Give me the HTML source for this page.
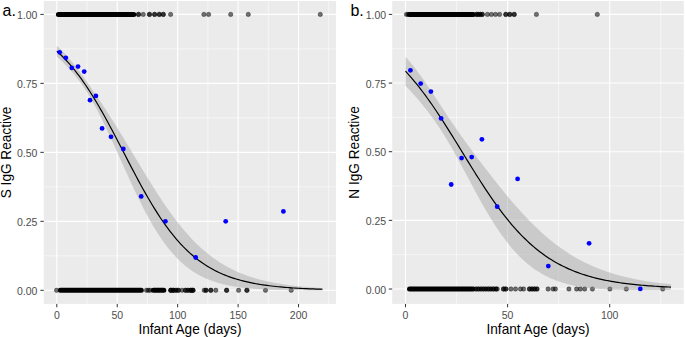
<!DOCTYPE html>
<html><head><meta charset="utf-8"><style>
html,body{margin:0;padding:0;background:#fff;width:685px;height:337px;overflow:hidden}
svg{display:block;font-family:"Liberation Sans",sans-serif}
</style></head><body>
<svg width="685" height="337" viewBox="0 0 685 337">
<rect width="685" height="337" fill="#fff"/>
<rect x="43.8" y="1" width="292.2" height="302.9" fill="#EBEBEB"/>
<path d="M43.8 255.81H336M43.8 186.84H336M43.8 117.86H336M43.8 48.89H336M87.02 1V303.9M147.45 1V303.9M207.89 1V303.9M268.32 1V303.9M328.76 1V303.9" stroke="#fff" stroke-width="0.55" fill="none"/>
<path d="M43.8 290.3H336M43.8 221.33H336M43.8 152.35H336M43.8 83.38H336M43.8 14.4H336M56.8 1V303.9M117.23 1V303.9M177.67 1V303.9M238.11 1V303.9M298.54 1V303.9" stroke="#fff" stroke-width="1.1" fill="none"/>
<path d="M58.4 14.4H133.8" stroke="#000" stroke-width="5.0" stroke-linecap="round"/>
<circle cx="138.5" cy="14.4" r="2.2" fill="#000" fill-opacity="0.55" stroke="#000" stroke-opacity="0.55" stroke-width="0.6"/>
<circle cx="138.5" cy="14.4" r="2.2" fill="#000" fill-opacity="0.55" stroke="#000" stroke-opacity="0.55" stroke-width="0.6"/>
<circle cx="143.2" cy="14.4" r="2.2" fill="#000" fill-opacity="0.55" stroke="#000" stroke-opacity="0.55" stroke-width="0.6"/>
<circle cx="149.5" cy="14.4" r="2.2" fill="#000" fill-opacity="0.55" stroke="#000" stroke-opacity="0.55" stroke-width="0.6"/>
<circle cx="149.5" cy="14.4" r="2.2" fill="#000" fill-opacity="0.55" stroke="#000" stroke-opacity="0.55" stroke-width="0.6"/>
<circle cx="154.6" cy="14.4" r="2.2" fill="#000" fill-opacity="0.55" stroke="#000" stroke-opacity="0.55" stroke-width="0.6"/>
<circle cx="154.6" cy="14.4" r="2.2" fill="#000" fill-opacity="0.55" stroke="#000" stroke-opacity="0.55" stroke-width="0.6"/>
<circle cx="159.3" cy="14.4" r="2.2" fill="#000" fill-opacity="0.55" stroke="#000" stroke-opacity="0.55" stroke-width="0.6"/>
<circle cx="159.3" cy="14.4" r="2.2" fill="#000" fill-opacity="0.55" stroke="#000" stroke-opacity="0.55" stroke-width="0.6"/>
<circle cx="163.3" cy="14.4" r="2.2" fill="#000" fill-opacity="0.55" stroke="#000" stroke-opacity="0.55" stroke-width="0.6"/>
<circle cx="163.3" cy="14.4" r="2.2" fill="#000" fill-opacity="0.55" stroke="#000" stroke-opacity="0.55" stroke-width="0.6"/>
<circle cx="170.6" cy="14.4" r="2.2" fill="#000" fill-opacity="0.55" stroke="#000" stroke-opacity="0.55" stroke-width="0.6"/>
<circle cx="203.9" cy="14.4" r="2.2" fill="#000" fill-opacity="0.55" stroke="#000" stroke-opacity="0.55" stroke-width="0.6"/>
<circle cx="208.6" cy="14.4" r="2.2" fill="#000" fill-opacity="0.55" stroke="#000" stroke-opacity="0.55" stroke-width="0.6"/>
<circle cx="230.7" cy="14.4" r="2.2" fill="#000" fill-opacity="0.55" stroke="#000" stroke-opacity="0.55" stroke-width="0.6"/>
<circle cx="248.3" cy="14.4" r="2.2" fill="#000" fill-opacity="0.55" stroke="#000" stroke-opacity="0.55" stroke-width="0.6"/>
<circle cx="320.3" cy="14.4" r="2.2" fill="#000" fill-opacity="0.55" stroke="#000" stroke-opacity="0.55" stroke-width="0.6"/>
<circle cx="56.6" cy="290.3" r="2.2" fill="#000" fill-opacity="0.55" stroke="#000" stroke-opacity="0.55" stroke-width="0.6"/>
<path d="M60.4 290.3H141.3" stroke="#000" stroke-width="5.0" stroke-linecap="round"/>
<circle cx="146.5" cy="290.3" r="2.2" fill="#000" fill-opacity="0.55" stroke="#000" stroke-opacity="0.55" stroke-width="0.6"/>
<circle cx="148.4" cy="290.3" r="2.2" fill="#000" fill-opacity="0.55" stroke="#000" stroke-opacity="0.55" stroke-width="0.6"/>
<circle cx="150.2" cy="290.3" r="2.2" fill="#000" fill-opacity="0.55" stroke="#000" stroke-opacity="0.55" stroke-width="0.6"/>
<path d="M153.4 290.3H163.8" stroke="#000" stroke-width="5.0" stroke-linecap="round"/>
<circle cx="170.8" cy="290.3" r="2.2" fill="#000" fill-opacity="0.55" stroke="#000" stroke-opacity="0.55" stroke-width="0.6"/>
<circle cx="170.8" cy="290.3" r="2.2" fill="#000" fill-opacity="0.55" stroke="#000" stroke-opacity="0.55" stroke-width="0.6"/>
<circle cx="170.8" cy="290.3" r="2.2" fill="#000" fill-opacity="0.55" stroke="#000" stroke-opacity="0.55" stroke-width="0.6"/>
<circle cx="173.3" cy="290.3" r="2.2" fill="#000" fill-opacity="0.55" stroke="#000" stroke-opacity="0.55" stroke-width="0.6"/>
<circle cx="173.3" cy="290.3" r="2.2" fill="#000" fill-opacity="0.55" stroke="#000" stroke-opacity="0.55" stroke-width="0.6"/>
<circle cx="173.3" cy="290.3" r="2.2" fill="#000" fill-opacity="0.55" stroke="#000" stroke-opacity="0.55" stroke-width="0.6"/>
<circle cx="176" cy="290.3" r="2.2" fill="#000" fill-opacity="0.55" stroke="#000" stroke-opacity="0.55" stroke-width="0.6"/>
<circle cx="176" cy="290.3" r="2.2" fill="#000" fill-opacity="0.55" stroke="#000" stroke-opacity="0.55" stroke-width="0.6"/>
<circle cx="178.3" cy="290.3" r="2.2" fill="#000" fill-opacity="0.55" stroke="#000" stroke-opacity="0.55" stroke-width="0.6"/>
<circle cx="178.3" cy="290.3" r="2.2" fill="#000" fill-opacity="0.55" stroke="#000" stroke-opacity="0.55" stroke-width="0.6"/>
<circle cx="182" cy="290.3" r="2.2" fill="#000" fill-opacity="0.55" stroke="#000" stroke-opacity="0.55" stroke-width="0.6"/>
<circle cx="185.5" cy="290.3" r="2.2" fill="#000" fill-opacity="0.55" stroke="#000" stroke-opacity="0.55" stroke-width="0.6"/>
<circle cx="185.5" cy="290.3" r="2.2" fill="#000" fill-opacity="0.55" stroke="#000" stroke-opacity="0.55" stroke-width="0.6"/>
<circle cx="188" cy="290.3" r="2.2" fill="#000" fill-opacity="0.55" stroke="#000" stroke-opacity="0.55" stroke-width="0.6"/>
<circle cx="188" cy="290.3" r="2.2" fill="#000" fill-opacity="0.55" stroke="#000" stroke-opacity="0.55" stroke-width="0.6"/>
<circle cx="190.8" cy="290.3" r="2.2" fill="#000" fill-opacity="0.55" stroke="#000" stroke-opacity="0.55" stroke-width="0.6"/>
<circle cx="190.8" cy="290.3" r="2.2" fill="#000" fill-opacity="0.55" stroke="#000" stroke-opacity="0.55" stroke-width="0.6"/>
<circle cx="190.8" cy="290.3" r="2.2" fill="#000" fill-opacity="0.55" stroke="#000" stroke-opacity="0.55" stroke-width="0.6"/>
<circle cx="192.9" cy="290.3" r="2.2" fill="#000" fill-opacity="0.55" stroke="#000" stroke-opacity="0.55" stroke-width="0.6"/>
<circle cx="192.9" cy="290.3" r="2.2" fill="#000" fill-opacity="0.55" stroke="#000" stroke-opacity="0.55" stroke-width="0.6"/>
<circle cx="192.9" cy="290.3" r="2.2" fill="#000" fill-opacity="0.55" stroke="#000" stroke-opacity="0.55" stroke-width="0.6"/>
<circle cx="204.2" cy="290.3" r="2.2" fill="#000" fill-opacity="0.55" stroke="#000" stroke-opacity="0.55" stroke-width="0.6"/>
<circle cx="206" cy="290.3" r="2.2" fill="#000" fill-opacity="0.55" stroke="#000" stroke-opacity="0.55" stroke-width="0.6"/>
<circle cx="206" cy="290.3" r="2.2" fill="#000" fill-opacity="0.55" stroke="#000" stroke-opacity="0.55" stroke-width="0.6"/>
<circle cx="210.8" cy="290.3" r="2.2" fill="#000" fill-opacity="0.55" stroke="#000" stroke-opacity="0.55" stroke-width="0.6"/>
<circle cx="210.8" cy="290.3" r="2.2" fill="#000" fill-opacity="0.55" stroke="#000" stroke-opacity="0.55" stroke-width="0.6"/>
<circle cx="215.8" cy="290.3" r="2.2" fill="#000" fill-opacity="0.55" stroke="#000" stroke-opacity="0.55" stroke-width="0.6"/>
<circle cx="226.6" cy="290.3" r="2.2" fill="#000" fill-opacity="0.55" stroke="#000" stroke-opacity="0.55" stroke-width="0.6"/>
<circle cx="226.6" cy="290.3" r="2.2" fill="#000" fill-opacity="0.55" stroke="#000" stroke-opacity="0.55" stroke-width="0.6"/>
<circle cx="238.6" cy="290.3" r="2.2" fill="#000" fill-opacity="0.55" stroke="#000" stroke-opacity="0.55" stroke-width="0.6"/>
<circle cx="246.9" cy="290.3" r="2.2" fill="#000" fill-opacity="0.55" stroke="#000" stroke-opacity="0.55" stroke-width="0.6"/>
<circle cx="246.9" cy="290.3" r="2.2" fill="#000" fill-opacity="0.55" stroke="#000" stroke-opacity="0.55" stroke-width="0.6"/>
<circle cx="265.5" cy="290.3" r="2.2" fill="#000" fill-opacity="0.55" stroke="#000" stroke-opacity="0.55" stroke-width="0.6"/>
<circle cx="291.2" cy="290.3" r="2.2" fill="#000" fill-opacity="0.55" stroke="#000" stroke-opacity="0.55" stroke-width="0.6"/>
<path d="M56.8 45.76 L59.01 47.82 L61.23 49.98 L63.44 52.25 L65.66 54.61 L67.87 57.09 L70.08 59.66 L72.3 62.32 L74.51 65.08 L76.73 67.92 L78.94 70.84 L81.15 73.83 L83.37 76.87 L85.58 79.97 L87.8 83.1 L90.01 86.27 L92.22 89.48 L94.44 92.71 L96.65 95.97 L98.86 99.27 L101.08 102.59 L103.29 105.95 L105.51 109.34 L107.72 112.77 L109.93 116.23 L112.15 119.72 L114.36 123.24 L116.58 126.79 L118.79 130.38 L121 133.98 L123.22 137.61 L125.43 141.26 L127.65 144.92 L129.86 148.6 L132.07 152.28 L134.29 155.97 L136.5 159.66 L138.72 163.34 L140.93 167.01 L143.14 170.67 L145.36 174.31 L147.57 177.92 L149.79 181.51 L152 185.06 L154.21 188.57 L156.43 192.04 L158.64 195.46 L160.85 198.83 L163.07 202.14 L165.28 205.4 L167.5 208.59 L169.71 211.72 L171.92 214.78 L174.14 217.77 L176.35 220.69 L178.57 223.53 L180.78 226.29 L182.99 228.98 L185.21 231.59 L187.42 234.12 L189.64 236.57 L191.85 238.95 L194.06 241.24 L196.28 243.45 L198.49 245.59 L200.71 247.64 L202.92 249.63 L205.13 251.53 L207.35 253.36 L209.56 255.12 L211.78 256.81 L213.99 258.43 L216.2 259.98 L218.42 261.47 L220.63 262.89 L222.85 264.25 L225.06 265.55 L227.27 266.79 L229.49 267.98 L231.7 269.11 L233.91 270.19 L236.13 271.21 L238.34 272.19 L240.56 273.13 L242.77 274.02 L244.98 274.86 L247.2 275.67 L249.41 276.43 L251.63 277.16 L253.84 277.85 L256.05 278.51 L258.27 279.13 L260.48 279.72 L262.7 280.29 L264.91 280.82 L267.12 281.33 L269.34 281.81 L271.55 282.26 L273.77 282.69 L275.98 283.1 L278.19 283.49 L280.41 283.86 L282.62 284.21 L284.84 284.54 L287.05 284.85 L289.26 285.15 L291.48 285.43 L293.69 285.69 L295.91 285.94 L298.12 286.18 L300.33 286.41 L302.55 286.62 L304.76 286.82 L306.97 287.01 L309.19 287.19 L311.4 287.36 L313.62 287.53 L315.83 287.68 L318.04 287.82 L320.26 287.96 L322.47 288.09 L322.47 290.43 L320.26 290.43 L318.04 290.42 L315.83 290.42 L313.62 290.41 L311.4 290.4 L309.19 290.39 L306.97 290.38 L304.76 290.37 L302.55 290.35 L300.33 290.33 L298.12 290.31 L295.91 290.29 L293.69 290.26 L291.48 290.23 L289.26 290.2 L287.05 290.16 L284.84 290.12 L282.62 290.08 L280.41 290.03 L278.19 289.97 L275.98 289.91 L273.77 289.84 L271.55 289.76 L269.34 289.68 L267.12 289.58 L264.91 289.48 L262.7 289.37 L260.48 289.24 L258.27 289.11 L256.05 288.96 L253.84 288.79 L251.63 288.61 L249.41 288.42 L247.2 288.21 L244.98 287.97 L242.77 287.72 L240.56 287.44 L238.34 287.14 L236.13 286.82 L233.91 286.46 L231.7 286.08 L229.49 285.66 L227.27 285.21 L225.06 284.72 L222.85 284.19 L220.63 283.62 L218.42 283 L216.2 282.33 L213.99 281.61 L211.78 280.83 L209.56 280 L207.35 279.1 L205.13 278.13 L202.92 277.09 L200.71 275.98 L198.49 274.78 L196.28 273.5 L194.06 272.14 L191.85 270.68 L189.64 269.12 L187.42 267.46 L185.21 265.69 L182.99 263.82 L180.78 261.82 L178.57 259.71 L176.35 257.47 L174.14 255.11 L171.92 252.61 L169.71 249.98 L167.5 247.22 L165.28 244.32 L163.07 241.27 L160.85 238.09 L158.64 234.76 L156.43 231.3 L154.21 227.69 L152 223.95 L149.79 220.08 L147.57 216.07 L145.36 211.94 L143.14 207.7 L140.93 203.33 L138.72 198.87 L136.5 194.31 L134.29 189.66 L132.07 184.94 L129.86 180.15 L127.65 175.3 L125.43 170.42 L123.22 165.5 L121 160.57 L118.79 155.63 L116.58 150.71 L114.36 145.81 L112.15 140.95 L109.93 136.14 L107.72 131.39 L105.51 126.72 L103.29 122.14 L101.08 117.67 L98.86 113.3 L96.65 109.07 L94.44 104.97 L92.22 101.02 L90.01 97.22 L87.8 93.57 L85.58 90.08 L83.37 86.75 L81.15 83.57 L78.94 80.53 L76.73 77.64 L74.51 74.86 L72.3 72.21 L70.08 69.68 L67.87 67.24 L65.66 64.91 L63.44 62.67 L61.23 60.52 L59.01 58.45 L56.8 56.47Z" fill="#999" fill-opacity="0.4"/>
<path d="M56.8 51.11 L59.01 53.13 L61.23 55.25 L63.44 57.46 L65.66 59.76 L67.87 62.16 L70.08 64.67 L72.3 67.27 L74.51 69.97 L76.73 72.78 L78.94 75.69 L81.15 78.7 L83.37 81.81 L85.58 85.02 L87.8 88.34 L90.01 91.74 L92.22 95.25 L94.44 98.84 L96.65 102.52 L98.86 106.29 L101.08 110.13 L103.29 114.05 L105.51 118.03 L107.72 122.08 L109.93 126.18 L112.15 130.33 L114.36 134.53 L116.58 138.75 L118.79 143.01 L121 147.28 L123.22 151.56 L125.43 155.84 L127.65 160.11 L129.86 164.37 L132.07 168.61 L134.29 172.82 L136.5 176.98 L138.72 181.1 L140.93 185.17 L143.14 189.18 L145.36 193.13 L147.57 197 L149.79 200.79 L152 204.5 L154.21 208.13 L156.43 211.67 L158.64 215.11 L160.85 218.46 L163.07 221.71 L165.28 224.86 L167.5 227.91 L169.71 230.85 L171.92 233.7 L174.14 236.44 L176.35 239.08 L178.57 241.62 L180.78 244.06 L182.99 246.4 L185.21 248.64 L187.42 250.79 L189.64 252.85 L191.85 254.81 L194.06 256.69 L196.28 258.48 L198.49 260.18 L200.71 261.81 L202.92 263.36 L205.13 264.83 L207.35 266.23 L209.56 267.56 L211.78 268.82 L213.99 270.02 L216.2 271.16 L218.42 272.23 L220.63 273.25 L222.85 274.22 L225.06 275.13 L227.27 276 L229.49 276.82 L231.7 277.59 L233.91 278.32 L236.13 279.02 L238.34 279.67 L240.56 280.29 L242.77 280.87 L244.98 281.42 L247.2 281.94 L249.41 282.43 L251.63 282.89 L253.84 283.32 L256.05 283.73 L258.27 284.12 L260.48 284.48 L262.7 284.83 L264.91 285.15 L267.12 285.45 L269.34 285.74 L271.55 286.01 L273.77 286.27 L275.98 286.5 L278.19 286.73 L280.41 286.94 L282.62 287.14 L284.84 287.33 L287.05 287.51 L289.26 287.67 L291.48 287.83 L293.69 287.98 L295.91 288.12 L298.12 288.25 L300.33 288.37 L302.55 288.49 L304.76 288.59 L306.97 288.7 L309.19 288.79 L311.4 288.88 L313.62 288.97 L315.83 289.05 L318.04 289.12 L320.26 289.19 L322.47 289.26" fill="none" stroke="#000" stroke-width="1.2"/>
<circle cx="59.7" cy="52.3" r="2.4" fill="#0000FF"/>
<circle cx="65.8" cy="57.8" r="2.4" fill="#0000FF"/>
<circle cx="71.8" cy="67.9" r="2.4" fill="#0000FF"/>
<circle cx="78" cy="66.6" r="2.4" fill="#0000FF"/>
<circle cx="84.2" cy="71.6" r="2.4" fill="#0000FF"/>
<circle cx="90" cy="100.2" r="2.4" fill="#0000FF"/>
<circle cx="95.9" cy="95.9" r="2.4" fill="#0000FF"/>
<circle cx="102.1" cy="128.4" r="2.4" fill="#0000FF"/>
<circle cx="111" cy="136.8" r="2.4" fill="#0000FF"/>
<circle cx="123.3" cy="149" r="2.4" fill="#0000FF"/>
<circle cx="141.2" cy="196.4" r="2.4" fill="#0000FF"/>
<circle cx="165.4" cy="221.3" r="2.4" fill="#0000FF"/>
<circle cx="225.7" cy="221.3" r="2.4" fill="#0000FF"/>
<circle cx="283.4" cy="211.4" r="2.4" fill="#0000FF"/>
<circle cx="195.7" cy="257.5" r="2.4" fill="#0000FF"/>
<path d="M40.4 290.3H43.8M40.4 221.33H43.8M40.4 152.35H43.8M40.4 83.38H43.8M40.4 14.4H43.8M56.8 303.9V307.3M117.23 303.9V307.3M177.67 303.9V307.3M238.11 303.9V307.3M298.54 303.9V307.3" stroke="#333" stroke-width="1.0" fill="none"/>
<text transform="translate(37.3 294.9) scale(1 1.06)" text-anchor="end" font-size="10.5" fill="#4D4D4D">0.00</text>
<text transform="translate(37.3 225.93) scale(1 1.06)" text-anchor="end" font-size="10.5" fill="#4D4D4D">0.25</text>
<text transform="translate(37.3 156.95) scale(1 1.06)" text-anchor="end" font-size="10.5" fill="#4D4D4D">0.50</text>
<text transform="translate(37.3 87.98) scale(1 1.06)" text-anchor="end" font-size="10.5" fill="#4D4D4D">0.75</text>
<text transform="translate(37.3 19) scale(1 1.06)" text-anchor="end" font-size="10.5" fill="#4D4D4D">1.00</text>
<text transform="translate(56.8 318.8) scale(1 1.06)" text-anchor="middle" font-size="10.5" fill="#4D4D4D">0</text>
<text transform="translate(117.23 318.8) scale(1 1.06)" text-anchor="middle" font-size="10.5" fill="#4D4D4D">50</text>
<text transform="translate(177.67 318.8) scale(1 1.06)" text-anchor="middle" font-size="10.5" fill="#4D4D4D">100</text>
<text transform="translate(238.11 318.8) scale(1 1.06)" text-anchor="middle" font-size="10.5" fill="#4D4D4D">150</text>
<text transform="translate(298.54 318.8) scale(1 1.06)" text-anchor="middle" font-size="10.5" fill="#4D4D4D">200</text>
<text transform="translate(189.9 334) scale(1 1.08)" text-anchor="middle" font-size="13.65" fill="#000">Infant Age (days)</text>
<text transform="translate(11.2 152.45) rotate(-90) scale(1 1.04)" text-anchor="middle" font-size="13.65" fill="#000">S IgG Reactive</text>
<text transform="translate(2.5 15.6) scale(1 1.0)" font-size="16" fill="#000">a.</text>
<rect x="392.2" y="1" width="291.6" height="302.9" fill="#EBEBEB"/>
<path d="M392.2 254.68H683.8M392.2 186.02H683.8M392.2 117.38H683.8M392.2 48.72H683.8M456.55 1V303.9M558.65 1V303.9M660.75 1V303.9" stroke="#fff" stroke-width="0.55" fill="none"/>
<path d="M392.2 289H683.8M392.2 220.35H683.8M392.2 151.7H683.8M392.2 83.05H683.8M392.2 14.4H683.8M405.5 1V303.9M507.6 1V303.9M609.7 1V303.9" stroke="#fff" stroke-width="1.1" fill="none"/>
<circle cx="406.5" cy="14.4" r="2.2" fill="#000" fill-opacity="0.55" stroke="#000" stroke-opacity="0.55" stroke-width="0.6"/>
<circle cx="408" cy="14.4" r="2.2" fill="#000" fill-opacity="0.55" stroke="#000" stroke-opacity="0.55" stroke-width="0.6"/>
<path d="M409.5 14.4H473.2" stroke="#000" stroke-width="5.0" stroke-linecap="round"/>
<circle cx="476.5" cy="14.4" r="2.2" fill="#000" fill-opacity="0.55" stroke="#000" stroke-opacity="0.55" stroke-width="0.6"/>
<circle cx="476.5" cy="14.4" r="2.2" fill="#000" fill-opacity="0.55" stroke="#000" stroke-opacity="0.55" stroke-width="0.6"/>
<circle cx="478.2" cy="14.4" r="2.2" fill="#000" fill-opacity="0.55" stroke="#000" stroke-opacity="0.55" stroke-width="0.6"/>
<circle cx="478.2" cy="14.4" r="2.2" fill="#000" fill-opacity="0.55" stroke="#000" stroke-opacity="0.55" stroke-width="0.6"/>
<circle cx="480.3" cy="14.4" r="2.2" fill="#000" fill-opacity="0.55" stroke="#000" stroke-opacity="0.55" stroke-width="0.6"/>
<circle cx="480.3" cy="14.4" r="2.2" fill="#000" fill-opacity="0.55" stroke="#000" stroke-opacity="0.55" stroke-width="0.6"/>
<circle cx="482.3" cy="14.4" r="2.2" fill="#000" fill-opacity="0.55" stroke="#000" stroke-opacity="0.55" stroke-width="0.6"/>
<circle cx="482.3" cy="14.4" r="2.2" fill="#000" fill-opacity="0.55" stroke="#000" stroke-opacity="0.55" stroke-width="0.6"/>
<circle cx="487.4" cy="14.4" r="2.2" fill="#000" fill-opacity="0.55" stroke="#000" stroke-opacity="0.55" stroke-width="0.6"/>
<circle cx="491.4" cy="14.4" r="2.2" fill="#000" fill-opacity="0.55" stroke="#000" stroke-opacity="0.55" stroke-width="0.6"/>
<circle cx="495.5" cy="14.4" r="2.2" fill="#000" fill-opacity="0.55" stroke="#000" stroke-opacity="0.55" stroke-width="0.6"/>
<circle cx="499.6" cy="14.4" r="2.2" fill="#000" fill-opacity="0.55" stroke="#000" stroke-opacity="0.55" stroke-width="0.6"/>
<circle cx="505.8" cy="14.4" r="2.2" fill="#000" fill-opacity="0.55" stroke="#000" stroke-opacity="0.55" stroke-width="0.6"/>
<circle cx="505.8" cy="14.4" r="2.2" fill="#000" fill-opacity="0.55" stroke="#000" stroke-opacity="0.55" stroke-width="0.6"/>
<circle cx="509.8" cy="14.4" r="2.2" fill="#000" fill-opacity="0.55" stroke="#000" stroke-opacity="0.55" stroke-width="0.6"/>
<circle cx="509.8" cy="14.4" r="2.2" fill="#000" fill-opacity="0.55" stroke="#000" stroke-opacity="0.55" stroke-width="0.6"/>
<circle cx="514.2" cy="14.4" r="2.2" fill="#000" fill-opacity="0.55" stroke="#000" stroke-opacity="0.55" stroke-width="0.6"/>
<circle cx="514.2" cy="14.4" r="2.2" fill="#000" fill-opacity="0.55" stroke="#000" stroke-opacity="0.55" stroke-width="0.6"/>
<circle cx="536.4" cy="14.4" r="2.2" fill="#000" fill-opacity="0.55" stroke="#000" stroke-opacity="0.55" stroke-width="0.6"/>
<circle cx="597.3" cy="14.4" r="2.2" fill="#000" fill-opacity="0.55" stroke="#000" stroke-opacity="0.55" stroke-width="0.6"/>
<path d="M409.5 289H473.1" stroke="#000" stroke-width="5.0" stroke-linecap="round"/>
<circle cx="476" cy="289" r="2.2" fill="#000" fill-opacity="0.55" stroke="#000" stroke-opacity="0.55" stroke-width="0.6"/>
<circle cx="476" cy="289" r="2.2" fill="#000" fill-opacity="0.55" stroke="#000" stroke-opacity="0.55" stroke-width="0.6"/>
<circle cx="478.5" cy="289" r="2.2" fill="#000" fill-opacity="0.55" stroke="#000" stroke-opacity="0.55" stroke-width="0.6"/>
<circle cx="478.5" cy="289" r="2.2" fill="#000" fill-opacity="0.55" stroke="#000" stroke-opacity="0.55" stroke-width="0.6"/>
<circle cx="481" cy="289" r="2.2" fill="#000" fill-opacity="0.55" stroke="#000" stroke-opacity="0.55" stroke-width="0.6"/>
<circle cx="481" cy="289" r="2.2" fill="#000" fill-opacity="0.55" stroke="#000" stroke-opacity="0.55" stroke-width="0.6"/>
<circle cx="483.5" cy="289" r="2.2" fill="#000" fill-opacity="0.55" stroke="#000" stroke-opacity="0.55" stroke-width="0.6"/>
<circle cx="483.5" cy="289" r="2.2" fill="#000" fill-opacity="0.55" stroke="#000" stroke-opacity="0.55" stroke-width="0.6"/>
<circle cx="486" cy="289" r="2.2" fill="#000" fill-opacity="0.55" stroke="#000" stroke-opacity="0.55" stroke-width="0.6"/>
<circle cx="486" cy="289" r="2.2" fill="#000" fill-opacity="0.55" stroke="#000" stroke-opacity="0.55" stroke-width="0.6"/>
<circle cx="488.5" cy="289" r="2.2" fill="#000" fill-opacity="0.55" stroke="#000" stroke-opacity="0.55" stroke-width="0.6"/>
<circle cx="488.5" cy="289" r="2.2" fill="#000" fill-opacity="0.55" stroke="#000" stroke-opacity="0.55" stroke-width="0.6"/>
<circle cx="491" cy="289" r="2.2" fill="#000" fill-opacity="0.55" stroke="#000" stroke-opacity="0.55" stroke-width="0.6"/>
<circle cx="491" cy="289" r="2.2" fill="#000" fill-opacity="0.55" stroke="#000" stroke-opacity="0.55" stroke-width="0.6"/>
<circle cx="493.5" cy="289" r="2.2" fill="#000" fill-opacity="0.55" stroke="#000" stroke-opacity="0.55" stroke-width="0.6"/>
<circle cx="493.5" cy="289" r="2.2" fill="#000" fill-opacity="0.55" stroke="#000" stroke-opacity="0.55" stroke-width="0.6"/>
<circle cx="496" cy="289" r="2.2" fill="#000" fill-opacity="0.55" stroke="#000" stroke-opacity="0.55" stroke-width="0.6"/>
<circle cx="496" cy="289" r="2.2" fill="#000" fill-opacity="0.55" stroke="#000" stroke-opacity="0.55" stroke-width="0.6"/>
<circle cx="497.3" cy="289" r="2.2" fill="#000" fill-opacity="0.55" stroke="#000" stroke-opacity="0.55" stroke-width="0.6"/>
<circle cx="503.5" cy="289" r="2.2" fill="#000" fill-opacity="0.55" stroke="#000" stroke-opacity="0.55" stroke-width="0.6"/>
<circle cx="503.5" cy="289" r="2.2" fill="#000" fill-opacity="0.55" stroke="#000" stroke-opacity="0.55" stroke-width="0.6"/>
<circle cx="505.8" cy="289" r="2.2" fill="#000" fill-opacity="0.55" stroke="#000" stroke-opacity="0.55" stroke-width="0.6"/>
<circle cx="505.8" cy="289" r="2.2" fill="#000" fill-opacity="0.55" stroke="#000" stroke-opacity="0.55" stroke-width="0.6"/>
<circle cx="510.9" cy="289" r="2.2" fill="#000" fill-opacity="0.55" stroke="#000" stroke-opacity="0.55" stroke-width="0.6"/>
<circle cx="515.5" cy="289" r="2.2" fill="#000" fill-opacity="0.55" stroke="#000" stroke-opacity="0.55" stroke-width="0.6"/>
<circle cx="520.5" cy="289" r="2.2" fill="#000" fill-opacity="0.55" stroke="#000" stroke-opacity="0.55" stroke-width="0.6"/>
<circle cx="523.6" cy="289" r="2.2" fill="#000" fill-opacity="0.55" stroke="#000" stroke-opacity="0.55" stroke-width="0.6"/>
<circle cx="529.5" cy="289" r="2.2" fill="#000" fill-opacity="0.55" stroke="#000" stroke-opacity="0.55" stroke-width="0.6"/>
<circle cx="529.5" cy="289" r="2.2" fill="#000" fill-opacity="0.55" stroke="#000" stroke-opacity="0.55" stroke-width="0.6"/>
<circle cx="532" cy="289" r="2.2" fill="#000" fill-opacity="0.55" stroke="#000" stroke-opacity="0.55" stroke-width="0.6"/>
<circle cx="532" cy="289" r="2.2" fill="#000" fill-opacity="0.55" stroke="#000" stroke-opacity="0.55" stroke-width="0.6"/>
<circle cx="534.5" cy="289" r="2.2" fill="#000" fill-opacity="0.55" stroke="#000" stroke-opacity="0.55" stroke-width="0.6"/>
<circle cx="534.5" cy="289" r="2.2" fill="#000" fill-opacity="0.55" stroke="#000" stroke-opacity="0.55" stroke-width="0.6"/>
<circle cx="537" cy="289" r="2.2" fill="#000" fill-opacity="0.55" stroke="#000" stroke-opacity="0.55" stroke-width="0.6"/>
<circle cx="537" cy="289" r="2.2" fill="#000" fill-opacity="0.55" stroke="#000" stroke-opacity="0.55" stroke-width="0.6"/>
<circle cx="548.1" cy="289" r="2.2" fill="#000" fill-opacity="0.55" stroke="#000" stroke-opacity="0.55" stroke-width="0.6"/>
<circle cx="553" cy="289" r="2.2" fill="#000" fill-opacity="0.55" stroke="#000" stroke-opacity="0.55" stroke-width="0.6"/>
<circle cx="555.4" cy="289" r="2.2" fill="#000" fill-opacity="0.55" stroke="#000" stroke-opacity="0.55" stroke-width="0.6"/>
<circle cx="568.9" cy="289" r="2.2" fill="#000" fill-opacity="0.55" stroke="#000" stroke-opacity="0.55" stroke-width="0.6"/>
<circle cx="576.6" cy="289" r="2.2" fill="#000" fill-opacity="0.55" stroke="#000" stroke-opacity="0.55" stroke-width="0.6"/>
<circle cx="580.3" cy="289" r="2.2" fill="#000" fill-opacity="0.55" stroke="#000" stroke-opacity="0.55" stroke-width="0.6"/>
<circle cx="584.7" cy="289" r="2.2" fill="#000" fill-opacity="0.55" stroke="#000" stroke-opacity="0.55" stroke-width="0.6"/>
<circle cx="592.4" cy="289" r="2.2" fill="#000" fill-opacity="0.55" stroke="#000" stroke-opacity="0.55" stroke-width="0.6"/>
<circle cx="609.9" cy="289" r="2.2" fill="#000" fill-opacity="0.55" stroke="#000" stroke-opacity="0.55" stroke-width="0.6"/>
<circle cx="626.3" cy="289" r="2.2" fill="#000" fill-opacity="0.55" stroke="#000" stroke-opacity="0.55" stroke-width="0.6"/>
<circle cx="662.7" cy="289" r="2.2" fill="#000" fill-opacity="0.55" stroke="#000" stroke-opacity="0.55" stroke-width="0.6"/>
<path d="M405.5 56.74 L407.71 59.25 L409.92 61.85 L412.14 64.54 L414.35 67.33 L416.56 70.2 L418.77 73.16 L420.99 76.19 L423.2 79.3 L425.41 82.47 L427.62 85.7 L429.83 88.99 L432.05 92.31 L434.26 95.67 L436.47 99.04 L438.68 102.43 L440.89 105.81 L443.11 109.19 L445.32 112.55 L447.53 115.89 L449.74 119.19 L451.96 122.47 L454.17 125.71 L456.38 128.91 L458.59 132.08 L460.8 135.22 L463.02 138.33 L465.23 141.4 L467.44 144.46 L469.65 147.49 L471.87 150.49 L474.08 153.48 L476.29 156.44 L478.5 159.39 L480.71 162.32 L482.93 165.23 L485.14 168.13 L487.35 171 L489.56 173.86 L491.77 176.7 L493.99 179.52 L496.2 182.32 L498.41 185.09 L500.62 187.84 L502.84 190.56 L505.05 193.26 L507.26 195.93 L509.47 198.56 L511.68 201.17 L513.9 203.74 L516.11 206.28 L518.32 208.77 L520.53 211.23 L522.74 213.65 L524.96 216.03 L527.17 218.37 L529.38 220.66 L531.59 222.9 L533.81 225.1 L536.02 227.25 L538.23 229.36 L540.44 231.42 L542.65 233.43 L544.87 235.39 L547.08 237.3 L549.29 239.16 L551.5 240.97 L553.72 242.73 L555.93 244.44 L558.14 246.11 L560.35 247.72 L562.56 249.29 L564.78 250.81 L566.99 252.28 L569.2 253.7 L571.41 255.08 L573.62 256.42 L575.84 257.71 L578.05 258.96 L580.26 260.16 L582.47 261.32 L584.69 262.44 L586.9 263.53 L589.11 264.57 L591.32 265.57 L593.53 266.54 L595.75 267.47 L597.96 268.37 L600.17 269.24 L602.38 270.07 L604.6 270.87 L606.81 271.63 L609.02 272.37 L611.23 273.08 L613.44 273.76 L615.66 274.42 L617.87 275.05 L620.08 275.65 L622.29 276.23 L624.5 276.78 L626.72 277.31 L628.93 277.82 L631.14 278.31 L633.35 278.78 L635.57 279.23 L637.78 279.66 L639.99 280.07 L642.2 280.47 L644.41 280.85 L646.63 281.21 L648.84 281.56 L651.05 281.89 L653.26 282.2 L655.47 282.51 L657.69 282.8 L659.9 283.08 L662.11 283.34 L664.32 283.6 L666.54 283.84 L668.75 284.07 L670.96 284.3 L670.96 289.92 L668.75 289.94 L666.54 289.95 L664.32 289.97 L662.11 289.99 L659.9 290.01 L657.69 290.02 L655.47 290.03 L653.26 290.05 L651.05 290.06 L648.84 290.07 L646.63 290.07 L644.41 290.08 L642.2 290.08 L639.99 290.07 L637.78 290.07 L635.57 290.06 L633.35 290.05 L631.14 290.03 L628.93 290.01 L626.72 289.98 L624.5 289.94 L622.29 289.9 L620.08 289.85 L617.87 289.8 L615.66 289.73 L613.44 289.66 L611.23 289.57 L609.02 289.48 L606.81 289.37 L604.6 289.25 L602.38 289.12 L600.17 288.97 L597.96 288.8 L595.75 288.62 L593.53 288.42 L591.32 288.2 L589.11 287.95 L586.9 287.69 L584.69 287.4 L582.47 287.08 L580.26 286.73 L578.05 286.36 L575.84 285.95 L573.62 285.51 L571.41 285.03 L569.2 284.51 L566.99 283.95 L564.78 283.34 L562.56 282.69 L560.35 281.99 L558.14 281.24 L555.93 280.43 L553.72 279.56 L551.5 278.63 L549.29 277.64 L547.08 276.58 L544.87 275.45 L542.65 274.25 L540.44 272.97 L538.23 271.6 L536.02 270.16 L533.81 268.63 L531.59 267 L529.38 265.29 L527.17 263.48 L524.96 261.57 L522.74 259.55 L520.53 257.44 L518.32 255.22 L516.11 252.89 L513.9 250.45 L511.68 247.91 L509.47 245.25 L507.26 242.48 L505.05 239.6 L502.84 236.61 L500.62 233.51 L498.41 230.3 L496.2 226.99 L493.99 223.57 L491.77 220.06 L489.56 216.45 L487.35 212.76 L485.14 208.98 L482.93 205.13 L480.71 201.2 L478.5 197.21 L476.29 193.18 L474.08 189.09 L471.87 184.98 L469.65 180.84 L467.44 176.68 L465.23 172.53 L463.02 168.39 L460.8 164.28 L458.59 160.2 L456.38 156.16 L454.17 152.19 L451.96 148.29 L449.74 144.46 L447.53 140.73 L445.32 137.08 L443.11 133.53 L440.89 130.08 L438.68 126.72 L436.47 123.46 L434.26 120.29 L432.05 117.21 L429.83 114.21 L427.62 111.29 L425.41 108.45 L423.2 105.68 L420.99 102.97 L418.77 100.33 L416.56 97.75 L414.35 95.23 L412.14 92.76 L409.92 90.35 L407.71 87.99 L405.5 85.68Z" fill="#999" fill-opacity="0.4"/>
<path d="M405.5 71.21 L407.71 73.62 L409.92 76.1 L412.14 78.65 L414.35 81.28 L416.56 83.97 L418.77 86.74 L420.99 89.58 L423.2 92.49 L425.41 95.46 L427.62 98.5 L429.83 101.6 L432.05 104.76 L434.26 107.98 L436.47 111.25 L438.68 114.57 L440.89 117.95 L443.11 121.36 L445.32 124.82 L447.53 128.31 L449.74 131.83 L451.96 135.38 L454.17 138.95 L456.38 142.54 L458.59 146.14 L460.8 149.75 L463.02 153.36 L465.23 156.97 L467.44 160.57 L469.65 164.16 L471.87 167.73 L474.08 171.28 L476.29 174.81 L478.5 178.3 L480.71 181.76 L482.93 185.18 L485.14 188.55 L487.35 191.88 L489.56 195.16 L491.77 198.38 L493.99 201.55 L496.2 204.65 L498.41 207.69 L500.62 210.67 L502.84 213.58 L505.05 216.43 L507.26 219.2 L509.47 221.91 L511.68 224.54 L513.9 227.1 L516.11 229.58 L518.32 232 L520.53 234.34 L522.74 236.6 L524.96 238.8 L527.17 240.92 L529.38 242.97 L531.59 244.95 L533.81 246.86 L536.02 248.71 L538.23 250.48 L540.44 252.19 L542.65 253.84 L544.87 255.42 L547.08 256.94 L549.29 258.4 L551.5 259.8 L553.72 261.15 L555.93 262.43 L558.14 263.67 L560.35 264.85 L562.56 265.99 L564.78 267.07 L566.99 268.11 L569.2 269.11 L571.41 270.05 L573.62 270.96 L575.84 271.83 L578.05 272.66 L580.26 273.45 L582.47 274.2 L584.69 274.92 L586.9 275.61 L589.11 276.26 L591.32 276.89 L593.53 277.48 L595.75 278.05 L597.96 278.59 L600.17 279.1 L602.38 279.59 L604.6 280.06 L606.81 280.5 L609.02 280.93 L611.23 281.33 L613.44 281.71 L615.66 282.07 L617.87 282.42 L620.08 282.75 L622.29 283.06 L624.5 283.36 L626.72 283.65 L628.93 283.91 L631.14 284.17 L633.35 284.41 L635.57 284.65 L637.78 284.87 L639.99 285.07 L642.2 285.27 L644.41 285.46 L646.63 285.64 L648.84 285.81 L651.05 285.97 L653.26 286.13 L655.47 286.27 L657.69 286.41 L659.9 286.54 L662.11 286.67 L664.32 286.79 L666.54 286.9 L668.75 287 L670.96 287.11" fill="none" stroke="#000" stroke-width="1.2"/>
<circle cx="410.4" cy="70.3" r="2.4" fill="#0000FF"/>
<circle cx="420.7" cy="83.6" r="2.4" fill="#0000FF"/>
<circle cx="430.9" cy="91.6" r="2.4" fill="#0000FF"/>
<circle cx="441.1" cy="118.4" r="2.4" fill="#0000FF"/>
<circle cx="481.9" cy="139.3" r="2.4" fill="#0000FF"/>
<circle cx="461.6" cy="158.1" r="2.4" fill="#0000FF"/>
<circle cx="471.7" cy="157.1" r="2.4" fill="#0000FF"/>
<circle cx="451.2" cy="184.5" r="2.4" fill="#0000FF"/>
<circle cx="517.6" cy="178.9" r="2.4" fill="#0000FF"/>
<circle cx="497.2" cy="206.7" r="2.4" fill="#0000FF"/>
<circle cx="548.3" cy="266.1" r="2.4" fill="#0000FF"/>
<circle cx="589.1" cy="243.3" r="2.4" fill="#0000FF"/>
<circle cx="640.3" cy="288.9" r="2.4" fill="#0000FF"/>
<path d="M388.8 289H392.2M388.8 220.35H392.2M388.8 151.7H392.2M388.8 83.05H392.2M388.8 14.4H392.2M405.5 303.9V307.3M507.6 303.9V307.3M609.7 303.9V307.3" stroke="#333" stroke-width="1.0" fill="none"/>
<text transform="translate(386.1 293.6) scale(1 1.06)" text-anchor="end" font-size="10.5" fill="#4D4D4D">0.00</text>
<text transform="translate(386.1 224.95) scale(1 1.06)" text-anchor="end" font-size="10.5" fill="#4D4D4D">0.25</text>
<text transform="translate(386.1 156.3) scale(1 1.06)" text-anchor="end" font-size="10.5" fill="#4D4D4D">0.50</text>
<text transform="translate(386.1 87.65) scale(1 1.06)" text-anchor="end" font-size="10.5" fill="#4D4D4D">0.75</text>
<text transform="translate(386.1 19) scale(1 1.06)" text-anchor="end" font-size="10.5" fill="#4D4D4D">1.00</text>
<text transform="translate(405.5 318.8) scale(1 1.06)" text-anchor="middle" font-size="10.5" fill="#4D4D4D">0</text>
<text transform="translate(507.6 318.8) scale(1 1.06)" text-anchor="middle" font-size="10.5" fill="#4D4D4D">50</text>
<text transform="translate(609.7 318.8) scale(1 1.06)" text-anchor="middle" font-size="10.5" fill="#4D4D4D">100</text>
<text transform="translate(538 334) scale(1 1.08)" text-anchor="middle" font-size="13.65" fill="#000">Infant Age (days)</text>
<text transform="translate(359.2 152.45) rotate(-90) scale(1 1.04)" text-anchor="middle" font-size="13.65" fill="#000">N IgG Reactive</text>
<text transform="translate(350.4 15.6) scale(1 1.0)" font-size="16" fill="#000">b.</text>
</svg>
</body></html>
